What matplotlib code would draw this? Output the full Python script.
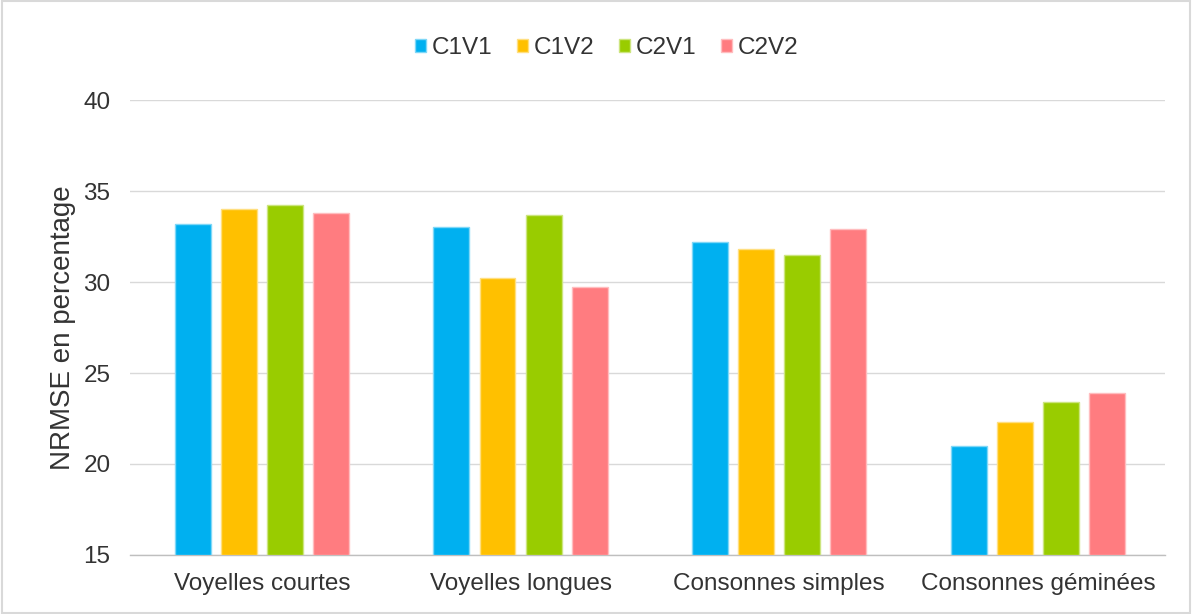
import matplotlib
matplotlib.use("Agg")
import matplotlib.pyplot as plt
import numpy as np

categories = ["Voyelles courtes", "Voyelles longues", "Consonnes simples", "Consonnes géminées"]
series_names = ["C1V1", "C1V2", "C2V1", "C2V2"]
c1v1 = [33.2, 33.0, 32.2, 21.0]
c1v2 = [34.0, 30.2, 31.8, 22.3]
c2v1 = [34.25, 33.7, 31.5, 23.4]
c2v2 = [33.8, 29.7, 32.9, 23.9]
series = [c1v1, c1v2, c2v1, c2v2]
colors = ["#00B0F0", "#FFC000", "#99CC00", "#FF7C80"]
edges = ["#7FD7F7", "#FFDF80", "#CCE57F", "#FFBDBF"]

plt.rcParams['font.family'] = ['Liberation Sans', 'DejaVu Sans']

fig = plt.figure(figsize=(11.92, 6.14), dpi=100)
ax = fig.add_axes([0.109, 0.0961, 0.868, 0.741])

x = np.arange(len(categories))
step = 0.178
width = 0.139
for i, (vals, name) in enumerate(zip(series, series_names)):
    offs = (i - 1.5) * step + 0.01
    ax.bar(x + offs, np.array(vals) - 15, bottom=15, width=width, color=colors[i],
           edgecolor=edges[i], linewidth=1, label=name, zorder=3)

txtc = '#333333'
ax.set_xlim(-0.5, len(categories) - 0.5)
ax.set_ylim(15, 40)
ax.set_yticks([15, 20, 25, 30, 35, 40])
ax.set_xticks(x + 0.01)
ax.set_xticklabels(categories)
ax.tick_params(axis='both', length=0, labelsize=17.5, colors=txtc)
ax.tick_params(axis='x', pad=13)
ax.tick_params(axis='y', pad=14)
ax.yaxis.grid(True, color='#D9D9D9', linewidth=1, zorder=0)
for s in ['top', 'right', 'left']:
    ax.spines[s].set_visible(False)
ax.spines['bottom'].set_color('#BFBFBF')
ax.spines['bottom'].set_linewidth(1)
ax.set_ylabel("NRMSE en percentage", fontsize=20, color=txtc, labelpad=5)

leg = fig.legend(loc='center', bbox_to_anchor=(0.509, 0.922), ncol=4, frameon=False,
                 fontsize=17.5, handlelength=0.45, handleheight=0.45, handletextpad=0.25,
                 columnspacing=1.0)
for t in leg.get_texts():
    t.set_color(txtc)

fig.patches.append(plt.Rectangle((0.002, 0.002), 0.996, 0.996, transform=fig.transFigure,
                                 fill=False, edgecolor='#D9D9D9', linewidth=1.5))

fig.savefig("out.png", dpi=100)
